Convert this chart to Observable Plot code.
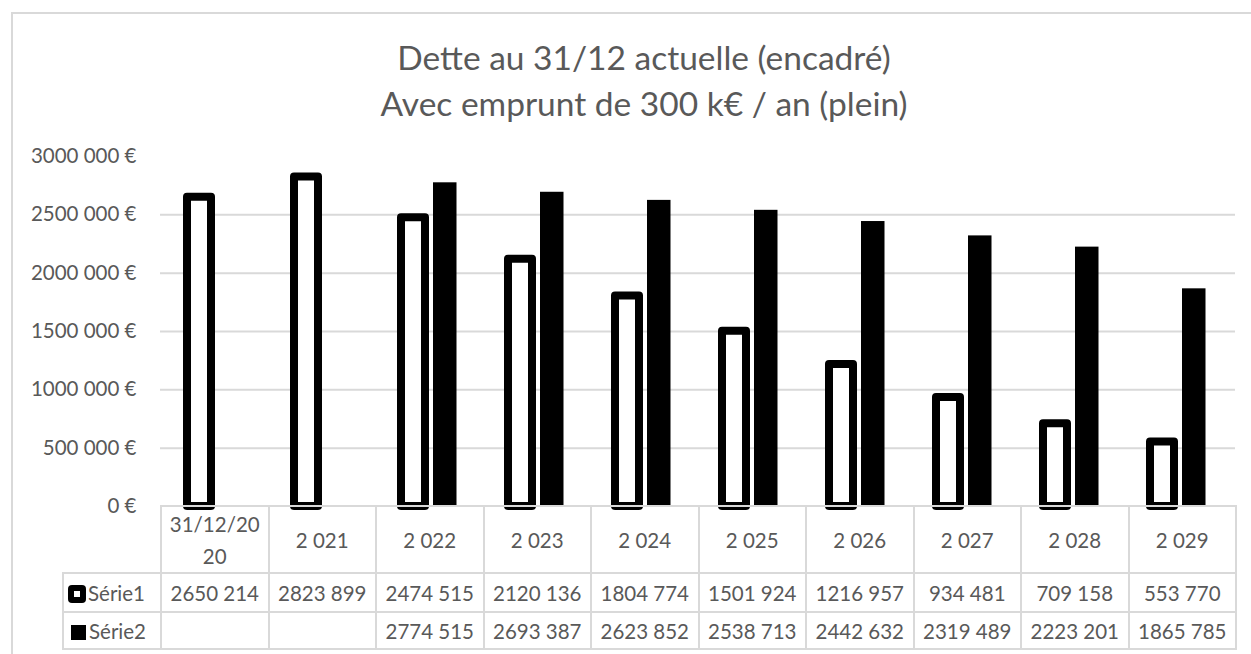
<!DOCTYPE html>
<html>
<head>
<meta charset="utf-8">
<script src="https://cdn.jsdelivr.net/npm/d3@7"></script>
<script src="https://cdn.jsdelivr.net/npm/@observablehq/plot@0.6"></script>
<style>
  html, body { margin:0; padding:0; background:#fff; }
  #wrap { position:relative; width:1251px; height:654px; overflow:hidden; background:#fff; font-family: Lato, "Open Sans", sans-serif; color:#595959; }
  #frame { position:absolute; left:11px; top:12px; width:1270px; height:700px; border:2px solid #d9d9d9; box-sizing:border-box; }
  #title { position:absolute; left:0; width:1288px; top:34px; text-align:center; font-size:33.5px; line-height:46px; color:#595959; }
  #chart { position:absolute; left:0; top:140px; }
  #tbl { position:absolute; left:62px; top:505px; border-collapse:collapse; table-layout:fixed; font-size:20.5px; color:#595959; }
  #tbl td { border:2px solid #d9d9d9; padding:0; text-align:center; white-space:nowrap; }
  #tbl td.blank { border:none; border-right:2px solid #d9d9d9; }
  #tbl td.leg { text-align:left; padding-left:4px; }
  .key1 { display:inline-block; width:18px; height:18px; background:#000; border-radius:4px; position:relative; vertical-align:-2px; margin-right:2px; }
  .key1::after { content:""; position:absolute; left:6px; top:6px; width:6px; height:6px; background:#fff; }
  .key2 { display:inline-block; width:15px; height:15px; background:#000; vertical-align:-1px; margin:0 3px 0 3px; }
</style>
</head>
<body>
<div id="wrap">
  <div id="frame"></div>
  <div id="title"></div>
  <div id="chart"></div>
  <table id="tbl"></table>
</div>
<script>
const titleLines = ["Dette au 31/12 actuelle (encadré)", "Avec emprunt de 300 k€ / an (plein)"];
const categories = ["31/12/2020", "2 021", "2 022", "2 023", "2 024", "2 025", "2 026", "2 027", "2 028", "2 029"];
const serie1Name = "Série1";
const serie2Name = "Série2";
const serie1 = [2650214, 2823899, 2474515, 2120136, 1804774, 1501924, 1216957, 934481, 709158, 553770];
const serie2 = [null, null, 2774515, 2693387, 2623852, 2538713, 2442632, 2319489, 2223201, 1865785];
const yTicks = [0, 500000, 1000000, 1500000, 2000000, 2500000, 3000000];

function fmtNum(v) {
  if (v == null) return "";
  const th = Math.floor(v / 1000), r = v % 1000;
  return th > 0 ? th + " " + String(r).padStart(3, "0") : String(r);
}

document.getElementById("title").innerHTML = titleLines.join("<br>");

const d1 = categories.map((c, i) => ({cat: c, v: serie1[i]}));
const d2 = categories.map((c, i) => ({cat: c, v: serie2[i]})).filter(d => d.v != null);

const chart = Plot.plot({
  width: 1251,
  height: 370,
  marginTop: 16,
  marginBottom: 4,
  marginLeft: 160,
  marginRight: 16,
  style: {fontFamily: "Lato, 'Open Sans', sans-serif", fontSize: "20.5px", color: "#595959", background: "transparent", overflow: "visible"},
  x: {domain: categories, padding: 0, axis: null},
  y: {domain: [0, 3000000], axis: null},
  marks: [
    Plot.ruleY(yTicks.filter(t => t > 0 && t < 3000000), {stroke: "#d9d9d9", strokeWidth: 2, strokeOpacity: 1}),
    Plot.axisY({ticks: yTicks, tickSize: 0, tickPadding: 24, label: null, tickFormat: v => fmtNum(v) + " €", fill: "#595959"}),
    Plot.barY(d1, {x: "cat", y: "v", fill: "white", stroke: "black", strokeWidth: 8, strokeLinejoin: "round", insetLeft: 24, insetRight: 59}),
    Plot.barY(d2, {x: "cat", y: "v", fill: "black", insetLeft: 56, insetRight: 27.5})
  ]
});
document.getElementById("chart").appendChild(chart);

// data table
const tbl = document.getElementById("tbl");
const colW = (1235 - 160) / categories.length;
let html = '<colgroup><col style="width:98px">' + categories.map(() => `<col style="width:${colW}px">`).join("") + '</colgroup>';
const lbl = c => c.length > 8 ? c.slice(0, 8) + "<br>" + c.slice(8) : c;
html += '<tr style="height:67px"><td class="blank"></td>' + categories.map(c => `<td style="line-height:32px">${lbl(c)}</td>`).join("") + '</tr>';
html += `<tr style="height:39px"><td class="leg"><span class="key1"></span>${serie1Name}</td>` + serie1.map(v => `<td>${fmtNum(v)}</td>`).join("") + '</tr>';
html += `<tr style="height:37px"><td class="leg"><span class="key2"></span>${serie2Name}</td>` + serie2.map(v => `<td>${fmtNum(v)}</td>`).join("") + '</tr>';
tbl.innerHTML = html;
</script>
</body>
</html>
